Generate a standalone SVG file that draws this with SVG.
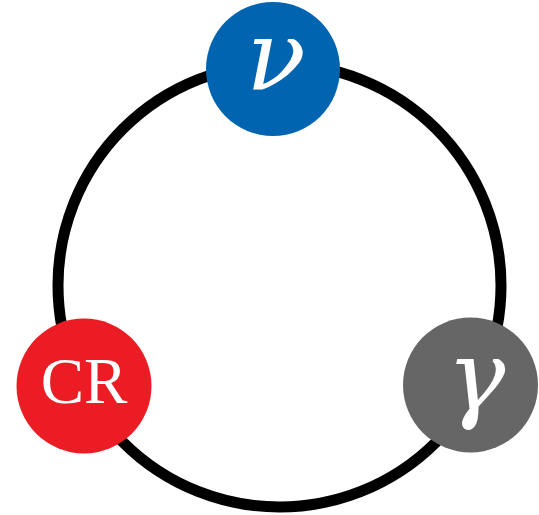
<svg xmlns="http://www.w3.org/2000/svg" width="539" height="515" viewBox="0 0 539 515">
  <style>
    .ring { fill: none; stroke: #000; stroke-width: 11; }
    .lbl { fill: #fff; font-family: "Liberation Serif", "DejaVu Serif", serif; text-anchor: middle; }
    .greek { font-family: "DejaVu Serif", serif; font-style: italic; font-size: 98px; }
    .latin { font-size: 65px; }
  </style>
  <g id="connectors">
    <circle class="ring" cx="279.5" cy="285.5" r="221.5"/>
  </g>
  <g id="node-nu">
    <circle cx="273" cy="69" r="67" fill="#0064b1"/>
    <text class="lbl greek" x="276" y="90">ν</text>
  </g>
  <g id="node-cr">
    <circle cx="84" cy="386" r="67.5" fill="#ec1c24"/>
    <text class="lbl latin" x="84" y="403">CR</text>
  </g>
  <g id="node-gamma">
    <circle cx="470.5" cy="385" r="67.5" fill="#666666"/>
    <text class="lbl greek" x="476" y="410">γ</text>
  </g>
</svg>
